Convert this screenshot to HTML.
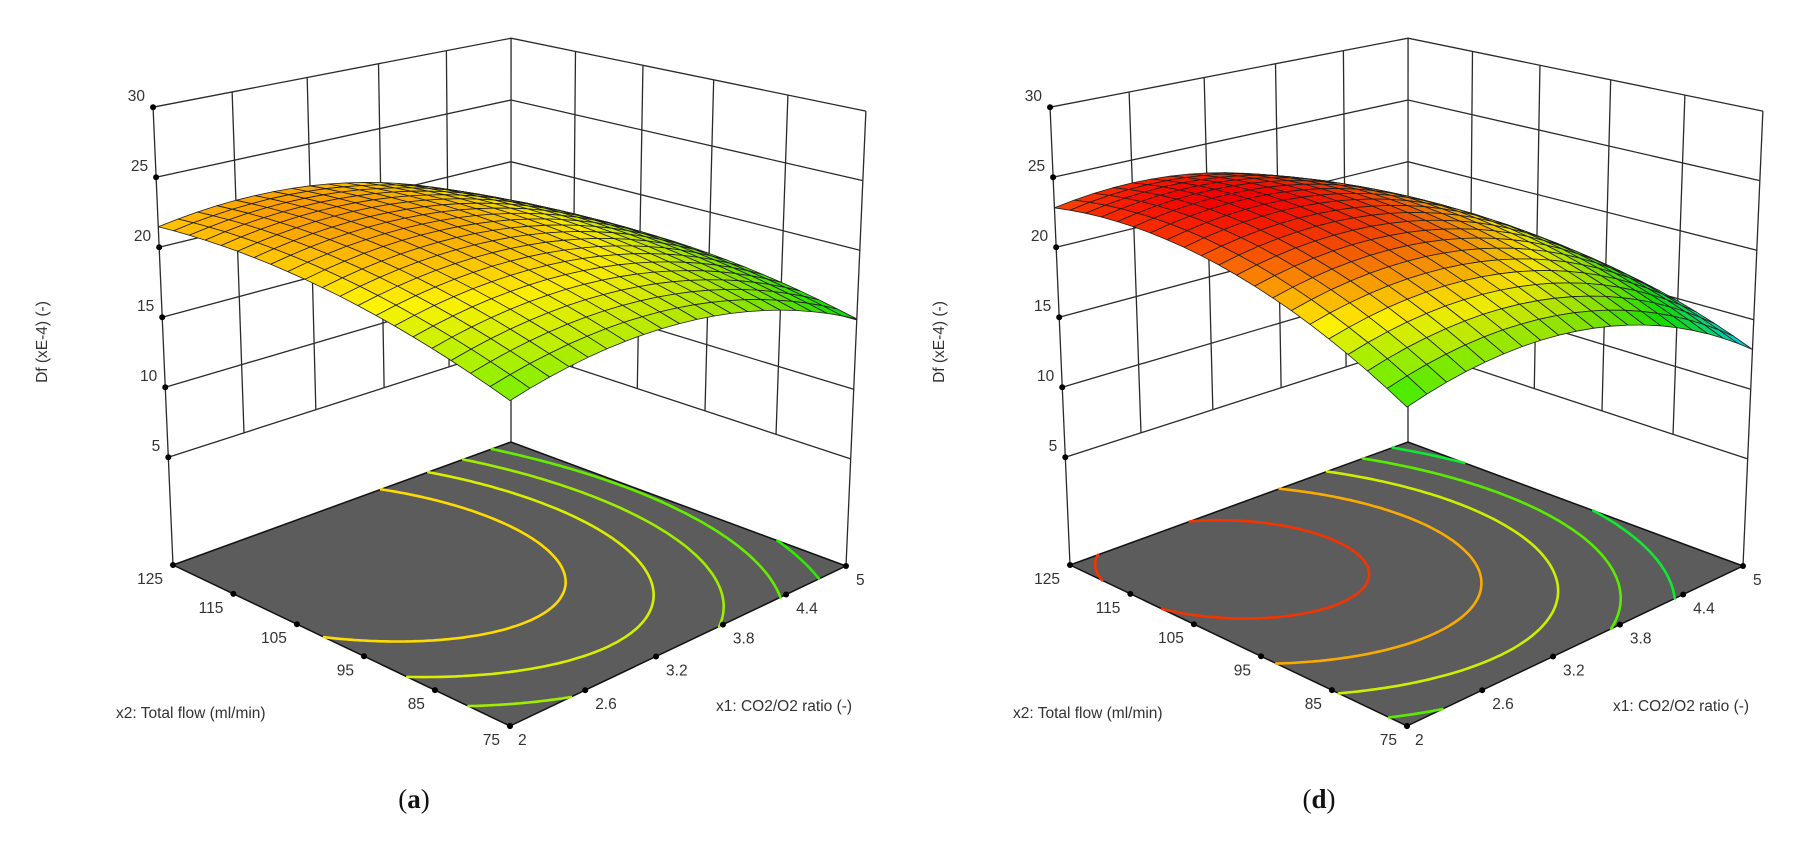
<!DOCTYPE html>
<html><head><meta charset="utf-8"><style>
html,body{margin:0;padding:0;background:#fff;}
svg{display:block;font-family:"Liberation Sans",sans-serif;}
</style></head><body>
<svg id="s" width="1811" height="845" viewBox="0 0 1811 845" xmlns="http://www.w3.org/2000/svg">
<rect width="1811" height="845" fill="#fff"/>
<g id="pa"></g><g id="pd"></g>
<text x="414" y="808" font-family="Liberation Serif,serif" font-size="27" text-anchor="middle" fill="#111">(<tspan font-weight="bold">a</tspan>)</text>
<text x="1319" y="808" font-family="Liberation Serif,serif" font-size="27" text-anchor="middle" fill="#111">(<tspan font-weight="bold">d</tspan>)</text>
</svg>
<script>
(function(){
var NS="http://www.w3.org/2000/svg";
function el(p,t,a,txt){var e=document.createElementNS(NS,t);for(var k in a)e.setAttribute(k,a[k]);if(txt!=null)e.textContent=txt;p.appendChild(e);return e;}
var X0=510,Y0=726, X1=846,Y1=566, X2=511,Y2=442, X3=173,Y3=565;
var dx1=X1-X2,dx2=X3-X2,dx3=X0-X1+X2-X3,dy1=Y1-Y2,dy2=Y3-Y2,dy3=Y0-Y1+Y2-Y3;
var den=dx1*dy2-dx2*dy1;
var g=(dx3*dy2-dx2*dy3)/den,h=(dx1*dy3-dx3*dy1)/den;
var A=X1-X0+g*X1,B=X3-X0+h*X3,C=X0,D=Y1-Y0+g*Y1,E=Y3-Y0+h*Y3,F=Y0;
var zf=-2.7, cc=0.00181;
var kF=14*(h+1);
function P(x1,x2,z,off){
  var u=(x1-2)/3,v=(x2-75)/50;
  var w=g*u+h*v+1;
  var xf=(A*u+B*v+C)/w, yf=(D*u+E*v+F)/w;
  var dz=z-zf;
  return [xf+(xf-510)*cc*dz+off, yf-(kF/w)*dz];
}
function inv(X,Y){
  var a11=A-X*g,a12=B-X*h,b1=X-C,a21=D-Y*g,a22=E-Y*h,b2=Y-F;
  var dd=a11*a22-a12*a21;
  var u=(b1*a22-a12*b2)/dd,v=(a11*b2-a21*b1)/dd;
  return [2+3*u,75+50*v];
}
function pt(p){return p[0].toFixed(1)+","+p[1].toFixed(1);}
function cmap(t){
  t=Math.max(0,Math.min(1,t));
  var st=[[0,[0,0,255]],[0.25,[0,225,235]],[0.5,[20,235,0]],[0.75,[255,240,0]],[1,[240,0,0]]];
  for(var i=0;i<4;i++){if(t<=st[i+1][0]){var f=(t-st[i][0])/(st[i+1][0]-st[i][0]);var a=st[i][1],b=st[i+1][1];return [a[0]+(b[0]-a[0])*f,a[1]+(b[1]-a[1])*f,a[2]+(b[2]-a[2])*f];}}
  return st[4][1];
}
function rgb(c,s){return "rgb("+Math.round(Math.min(255,c[0]*s))+","+Math.round(Math.min(255,c[1]*s))+","+Math.round(Math.min(255,c[2]*s))+")";}
function basis(x1,x2){var a=(x1-3.5)/1.5,b=(x2-100)/25;return [1,a,b,a*a,b*b,a*b];}
function fit(contours,corners,lw){
  var rows=[],rhs=[];
  contours.forEach(function(lv,k){var w=(lw&&lw[k])||1;lv.forEach(function(s){var q=inv(s[0],s[1]);var bs=basis(q[0],q[1]);rows.push(bs.concat([-1,k]).map(function(x){return x*w;}));rhs.push(0);});});
  corners.forEach(function(c){var bs=basis(c[0],c[1]);var w=c[3]||1.5;rows.push(bs.map(function(x){return x*w;}).concat([0,0]));rhs.push(c[2]*w);});
  var n=8,M=[];for(var i=0;i<n;i++){M[i]=[];for(var j=0;j<=n;j++)M[i][j]=0;}
  rows.forEach(function(r,ri){for(var i=0;i<n;i++){for(var j=0;j<n;j++)M[i][j]+=r[i]*r[j];M[i][n]+=r[i]*rhs[ri];}});
  for(var i=0;i<n;i++)M[i][i]+=1e-6;
  for(var i=0;i<n;i++){var p=i;for(var r=i+1;r<n;r++)if(Math.abs(M[r][i])>Math.abs(M[p][i]))p=r;var t=M[i];M[i]=M[p];M[p]=t;
    for(var r=0;r<n;r++)if(r!=i){var f=M[r][i]/M[i][i];for(var j=i;j<=n;j++)M[r][j]-=f*M[i][j];}}
  var x=[];for(var i=0;i<n;i++)x[i]=M[i][n]/M[i][i];
  var c=x.slice(0,6);
  var fn=function(x1,x2){var bs=basis(x1,x2),s=0;for(var i=0;i<6;i++)s+=bs[i]*c[i];return s;};
  var levels=contours.map(function(lv,k){return x[6]-k*x[7];});
  return {fn:fn,levels:levels};
}
function panel(gid,off,model,tmin,tmax){
  var fn=model.fn,levels=model.levels;
  var mn=1e9,mx=-1e9;for(var i=0;i<=30;i++)for(var j=0;j<=30;j++){var v=fn(2+i/10,75+50*j/30);if(v<mn)mn=v;if(v>mx)mx=v;}
  function T(v){return tmin+(v-mn)/(mx-mn)*(tmax-tmin);}
  var G=document.getElementById(gid);
  var line="#2a2a2a";
  var zs=[5,10,15,20,25,30];
  zs.forEach(function(z){
    el(G,"polyline",{points:pt(P(2,125,z,off))+" "+pt(P(5,125,z,off))+" "+pt(P(5,75,z,off)),fill:"none",stroke:line,"stroke-width":1.3});
  });
  [2.6,3.2,3.8,4.4].forEach(function(x1){var a=P(x1,125,5,off),b=P(x1,125,30,off);el(G,"line",{x1:a[0],y1:a[1],x2:b[0],y2:b[1],stroke:line,"stroke-width":1.3});});
  [85,95,105,115].forEach(function(x2){var a=P(5,x2,5,off),b=P(5,x2,30,off);el(G,"line",{x1:a[0],y1:a[1],x2:b[0],y2:b[1],stroke:line,"stroke-width":1.3});});
  [[2,125],[5,125],[5,75]].forEach(function(c){var a=P(c[0],c[1],zf,off),b=P(c[0],c[1],30,off);el(G,"line",{x1:a[0],y1:a[1],x2:b[0],y2:b[1],stroke:line,"stroke-width":1.3});});
  el(G,"polygon",{points:[P(2,75,zf,off),P(5,75,zf,off),P(5,125,zf,off),P(2,125,zf,off)].map(pt).join(" "),fill:"#5c5c5c",stroke:"#111","stroke-width":1.5});
  var N=90;
  var V=[];for(var i=0;i<=N;i++){V[i]=[];for(var j=0;j<=N;j++)V[i][j]=fn(2+3*i/N,75+50*j/N);}
  levels.forEach(function(L){
    var col=rgb(cmap(T(L)),1);var d="";
    for(var i=0;i<N;i++)for(var j=0;j<N;j++){
      var c=[[i,j,V[i][j]],[i+1,j,V[i+1][j]],[i+1,j+1,V[i+1][j+1]],[i,j+1,V[i][j+1]]];
      var pts=[];
      for(var k=0;k<4;k++){var p=c[k],q=c[(k+1)%4];if((p[2]-L)*(q[2]-L)<0){var t=(L-p[2])/(q[2]-p[2]);pts.push([p[0]+(q[0]-p[0])*t,p[1]+(q[1]-p[1])*t]);}}
      for(var m=0;m+1<pts.length;m+=2){var a=P(2+3*pts[m][0]/N,75+50*pts[m][1]/N,zf,off),b=P(2+3*pts[m+1][0]/N,75+50*pts[m+1][1]/N,zf,off);d+="M"+pt(a)+"L"+pt(b);}
    }
    el(G,"path",{d:d,fill:"none",stroke:col,"stroke-width":2.6,"stroke-linecap":"round"});
  });
  var fs=15.5,tc="#333";
  zs.forEach(function(z){var p=P(2,125,z,off);el(G,"circle",{cx:p[0],cy:p[1],r:3,fill:"#000"});el(G,"text",{x:p[0]-8,y:p[1]-6,"font-size":fs,fill:tc,"text-anchor":"end"},String(z));});
  [75,85,95,105,115,125].forEach(function(x2){var p=P(2,x2,zf,off);el(G,"circle",{cx:p[0],cy:p[1],r:3,fill:"#000"});el(G,"text",{x:p[0]-10,y:p[1]+19,"font-size":fs,fill:tc,"text-anchor":"end"},String(x2));});
  [[2,"2"],[2.6,"2.6"],[3.2,"3.2"],[3.8,"3.8"],[4.4,"4.4"],[5,"5"]].forEach(function(a){var p=P(a[0],75,zf,off);el(G,"circle",{cx:p[0],cy:p[1],r:3,fill:"#000"});el(G,"text",{x:p[0]+(a[0]==2?8:10),y:p[1]+19,"font-size":fs,fill:tc,"text-anchor":"start"},a[1]);});
  el(G,"text",{x:47+off,y:342,"font-size":15.5,fill:tc,"text-anchor":"middle",transform:"rotate(-90 "+(47+off)+" 342)"},"Df (xE-4) (-)");
  el(G,"text",{x:116+off,y:718,"font-size":15.5,fill:tc},"x2: Total flow (ml/min)");
  el(G,"text",{x:716+off,y:711,"font-size":15.5,fill:tc},"x1: CO2/O2 ratio (-)");
  var M=20,quads=[];
  for(var i=0;i<M;i++)for(var j=0;j<M;j++){
    var xa=2+3*i/M,xb=2+3*(i+1)/M,ya=75+50*j/M,yb=75+50*(j+1)/M;
    var za=fn(xa,ya),zb=fn(xb,ya),zc=fn(xb,yb),zd=fn(xa,yb);
    var zm=(za+zb+zc+zd)/4;
    var sx=((zb+zc)-(za+zd))/2, sy=((zc+zd)-(za+zb))/2;
    var sh=1.0+0.08*sx-0.05*sy;
    quads.push({d:i+j,pts:[P(xa,ya,za,off),P(xb,ya,zb,off),P(xb,yb,zc,off),P(xa,yb,zd,off)],c:rgb(cmap(T(zm)),Math.max(0.8,Math.min(1.06,sh)))});
  }
  quads.sort(function(a,b){return b.d-a.d;});
  var S=el(G,"g",{});
  quads.forEach(function(q){el(S,"polygon",{points:q.pts.map(pt).join(" "),fill:q.c,stroke:"#1e1e1e","stroke-width":0.8,"stroke-linejoin":"round"});});
}
var ma=fit([
  [[308,632],[568,583],[375,493],[427,641]],
  [[410,677],[655,587],[430,471],[569,660]],
  [[475,708],[556,703],[723,622],[721,583],[464,460]],
  [[778,593],[779,596],[490,448]],
  [[814,581],[773,538]]
],[[2,125,21.5],[2,75,17.5],[5,75,15.1]]);
var md=fit([
  [[204,564],[290,610],[471,579],[420,540],[340,514],[364,623]],
  [[376,669],[551,607],[382,497]],
  [[465,710],[629,628],[421,481]],
  [[712,637],[685,519],[462,464]],
  [[777,604],[507,448]]
],[[2,125,22.4],[2,75,16.7],[5,75,12.9],[2.75,124,25.3,1.0]],[4,1.5,1,1,1]);
panel("pa",0,ma,0.47,0.84);
panel("pd",897,md,0.22,1.0);
})();
</script>
</body></html>
